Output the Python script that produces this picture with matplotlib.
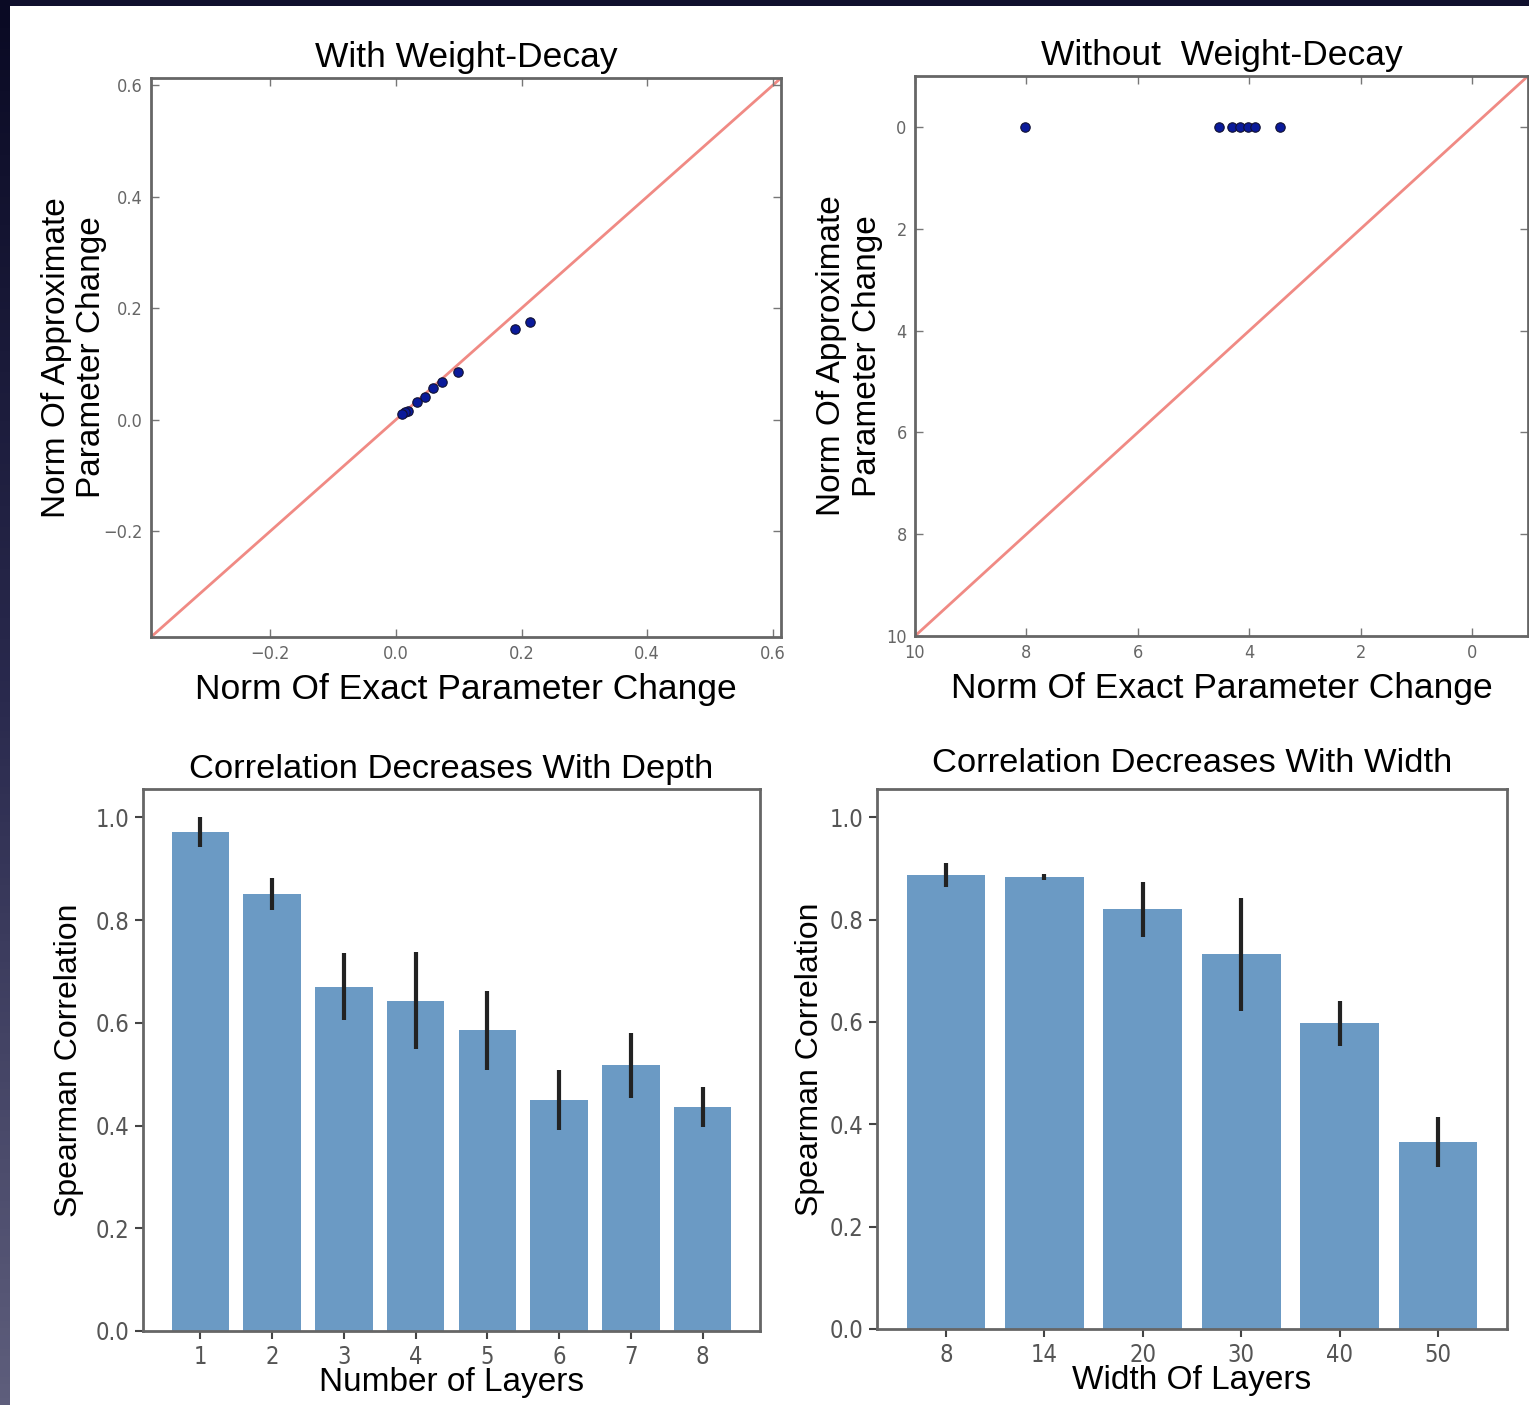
import numpy as np
import matplotlib
matplotlib.use("Agg")
import matplotlib.pyplot as plt
from matplotlib.colors import LinearSegmentedColormap

# --- data ---
wd_exact = [0.213, 0.190, 0.098, 0.074, 0.059, 0.046, 0.034, 0.019, 0.014, 0.010]
wd_approx = [0.175, 0.162, 0.086, 0.068, 0.056, 0.041, 0.031, 0.016, 0.013, 0.011]

nowd_exact = [8.03, 4.54, 4.31, 4.17, 4.03, 3.90, 3.45]
nowd_approx = [0, 0, 0, 0, 0, 0, 0]

depth_labels = ["1", "2", "3", "4", "5", "6", "7", "8"]
depth_corr = [0.971, 0.851, 0.670, 0.643, 0.585, 0.450, 0.517, 0.436]
depth_err = [0.029, 0.031, 0.065, 0.094, 0.077, 0.058, 0.064, 0.039]

width_labels = ["8", "14", "20", "30", "40", "50"]
width_corr = [0.887, 0.883, 0.820, 0.732, 0.597, 0.366]
width_err = [0.024, 0.005, 0.054, 0.111, 0.044, 0.049]

W, H = 1529, 1405
plt.rcParams['font.family'] = ['Liberation Sans', 'DejaVu Sans']

fig = plt.figure(figsize=(W / 100, H / 100), dpi=100, facecolor='#10102e')

# dark slide border: gradient strip on the left, white page behind the plots
strip = fig.add_axes([0, 0, 10 / W, 1])
grad = LinearSegmentedColormap.from_list('g', ['#0a0a24', '#2a2a4e', '#5e5e7c'])
strip.imshow(np.linspace(0, 1, 200).reshape(-1, 1), aspect='auto', cmap=grad)
strip.axis('off')
fig.patches.append(plt.Rectangle((10 / W, 0), 1, 1 - 6 / H, transform=fig.transFigure,
                                 facecolor='white', edgecolor='none', zorder=-10))


def box(x0, y0, x1, y1):
    return [x0 / W, 1 - y1 / H, (x1 - x0) / W, (y1 - y0) / H]


def style_spines(ax):
    for s in ax.spines.values():
        s.set_color('#666666')
        s.set_linewidth(2)


def narrow_ticks(ax):
    for lab in ax.get_xticklabels() + ax.get_yticklabels():
        lab.set_family('DejaVu Sans')
        lab.set_stretch('condensed')


# --- top left ---
ax1 = fig.add_axes(box(151, 78, 781, 637))
lim = (-0.39, 0.613)
ax1.plot(lim, lim, color='#f08a84', lw=2, zorder=1)
ax1.scatter(wd_exact, wd_approx, s=46, color='#0a1a9a', edgecolors='#111133', lw=0.8, zorder=2)
ax1.set_xlim(lim)
ax1.set_ylim(lim)
ax1.set_xticks([-0.2, 0.0, 0.2, 0.4, 0.6])
ax1.set_yticks([-0.2, 0.0, 0.2, 0.4, 0.6])
ax1.set_title("With Weight-Decay", fontsize=25.5, pad=8)
ax1.set_xlabel("Norm Of Exact Parameter Change", fontsize=25.5, labelpad=7)
ax1.set_ylabel("Norm Of Approximate\nParameter Change", fontsize=24, labelpad=-3)

# --- top right ---
ax2 = fig.add_axes(box(915, 76, 1528, 636))
lim2 = (10, -1)
ax2.plot(lim2, lim2, color='#f08a84', lw=2, zorder=1)
ax2.scatter(nowd_exact, nowd_approx, s=46, color='#0a1a9a', edgecolors='#111133', lw=0.8, zorder=2)
ax2.set_xlim(lim2)
ax2.set_ylim(lim2)
ax2.set_xticks([10, 8, 6, 4, 2, 0])
ax2.set_yticks([0, 2, 4, 6, 8, 10])
ax2.set_title("Without  Weight-Decay", fontsize=25.5, pad=8)
ax2.set_xlabel("Norm Of Exact Parameter Change", fontsize=25.5, labelpad=7)
ax2.set_ylabel("Norm Of Approximate\nParameter Change", fontsize=24, labelpad=2)

for ax in (ax1, ax2):
    style_spines(ax)
    ax.tick_params(direction='in', length=6, width=1, color='#777777',
                   top=True, right=True, labelsize=13, labelcolor='#666666', pad=6)
    narrow_ticks(ax)

# --- bottom left ---
bar_color = '#6b9ac4'
ax3 = fig.add_axes(box(143, 789, 760, 1331))
x3 = np.arange(1, len(depth_corr) + 1)
ax3.bar(x3, depth_corr, width=0.8, color=bar_color)
ax3.errorbar(x3, depth_corr, yerr=depth_err, fmt='none', ecolor='#222222', elinewidth=3, capsize=0)
ax3.set_xlim(0.2, 8.8)
ax3.set_xticks(x3)
ax3.set_xticklabels(depth_labels)
ax3.set_title("Correlation Decreases With Depth", fontsize=24.8, pad=8)
ax3.set_xlabel("Number of Layers", fontsize=24, labelpad=-1)
ax3.set_ylabel("Spearman Correlation", fontsize=23, labelpad=8)

# --- bottom right ---
ax4 = fig.add_axes(box(877, 789, 1507, 1329))
x4 = np.arange(len(width_corr))
ax4.bar(x4, width_corr, width=0.8, color=bar_color)
ax4.errorbar(x4, width_corr, yerr=width_err, fmt='none', ecolor='#222222', elinewidth=3, capsize=0)
ax4.set_xlim(-0.7, 5.7)
ax4.set_xticks(x4)
ax4.set_xticklabels(width_labels)
ax4.set_title("Correlation Decreases With Width", fontsize=24.8, pad=12)
ax4.set_xlabel("Width Of Layers", fontsize=24, labelpad=-1)
ax4.set_ylabel("Spearman Correlation", fontsize=23, labelpad=3)

for ax in (ax3, ax4):
    style_spines(ax)
    ax.set_ylim(0, 1.055)
    ax.set_yticks([0.0, 0.2, 0.4, 0.6, 0.8, 1.0])
    ax.set_yticklabels(["0.0", "0.2", "0.4", "0.6", "0.8", "1.0"])
    ax.tick_params(direction='out', length=6, width=1.5, color='#444444',
                   labelsize=17, labelcolor='#555555', pad=4)
    narrow_ticks(ax)

fig.savefig("out.png", dpi=100, facecolor=fig.get_facecolor())
